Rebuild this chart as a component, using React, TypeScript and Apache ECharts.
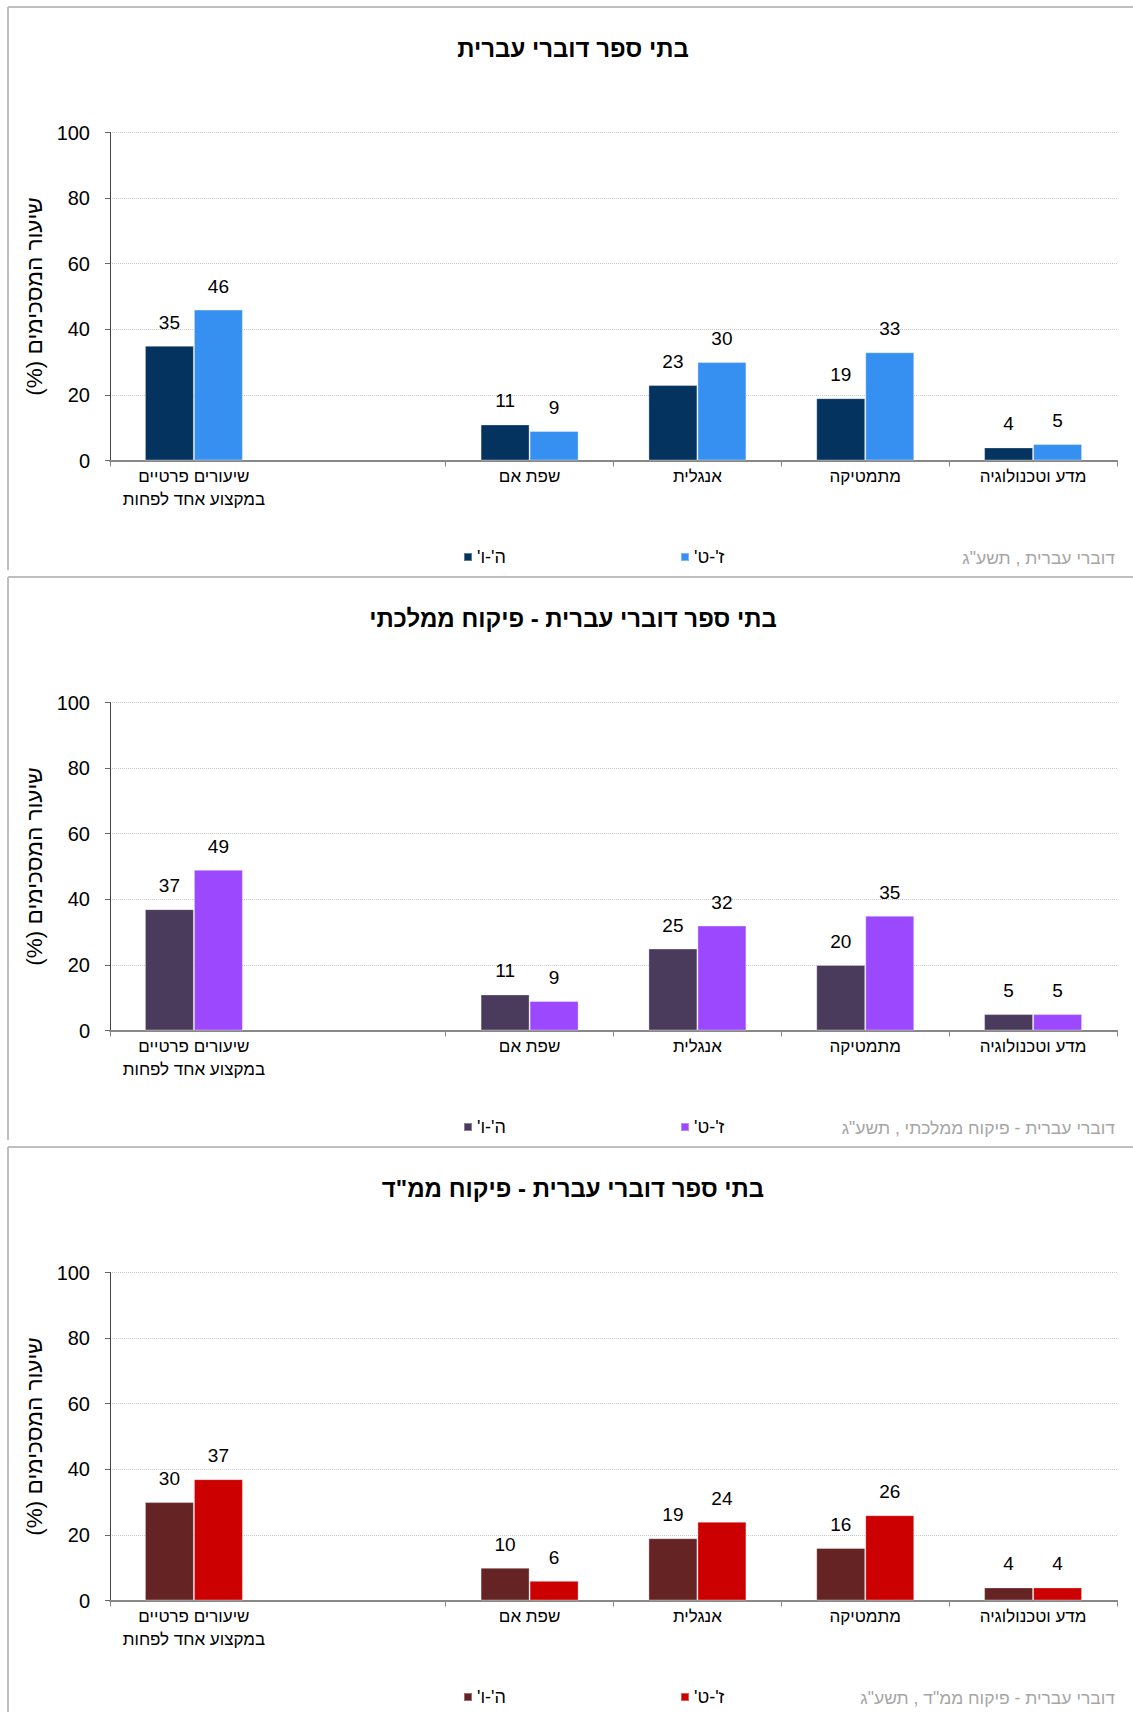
import React, { useEffect, useRef } from "react";
import * as echarts from "echarts";

const RLM = "\u200F";
const rtl = (s: string) => RLM + s + RLM;

const categories = [
  "שיעורים פרטיים\nבמקצוע אחד לפחות",
  "",
  "שפת אם",
  "אנגלית",
  "מתמטיקה",
  "מדע וטכנולוגיה",
];
const seriesNames = ["ה'-ו'", "ז'-ט'"];
const yAxisName = "שיעור המסכימים (%)";
const yTicks = [0, 20, 40, 60, 80, 100];

const titles = [
  "בתי ספר דוברי עברית",
  "בתי ספר דוברי עברית - פיקוח ממלכתי",
  'בתי ספר דוברי עברית - פיקוח ממ"ד',
];
const footnotes = [
  'דוברי עברית , תשע"ג',
  'דוברי עברית - פיקוח ממלכתי , תשע"ג',
  'דוברי עברית - פיקוח ממ"ד , תשע"ג',
];

const allLower = [35, null, 11, 23, 19, 4];
const allUpper = [46, null, 9, 30, 33, 5];
const stateLower = [37, null, 11, 25, 20, 5];
const stateUpper = [49, null, 9, 32, 35, 5];
const religLower = [30, null, 10, 19, 16, 4];
const religUpper = [37, null, 6, 24, 26, 4];

const panelData = [
  [allLower, allUpper],
  [stateLower, stateUpper],
  [religLower, religUpper],
];
const panelColors = [
  ["#03335E", "#3690F2"],
  ["#4A3A5C", "#9C48FF"],
  ["#652324", "#CC0000"],
];

const FONT = "'Liberation Sans', Arial, sans-serif";
const PANEL_H = 570;
const W = 1133;

function buildOption(i: number, h: number) {
  const [lower, upper] = panelData[i];
  const colors = panelColors[i];
  const mkSeries = (name: string, data: (number | null)[], color: string) => ({
    type: "bar",
    name,
    data,
    barWidth: 49,
    barGap: "0%",
    itemStyle: { color, borderColor: "rgba(255,255,255,0.35)", borderWidth: 1 },
    label: {
      show: true,
      position: "top",
      distance: 14,
      color: "#000",
      fontSize: 19,
      fontFamily: FONT,
    },
  });
  return {
    animation: false,
    textStyle: { fontFamily: FONT },
    title: {
      text: rtl(titles[i]),
      left: 573,
      top: 36,
      textAlign: "center",
      padding: 0,
      textStyle: { fontSize: 24, fontWeight: "bold", color: "#000", fontFamily: FONT },
    },
    legend: [0, 1].map((k) => ({
      data: [seriesNames[k]],
      left: k === 0 ? 463 : 680,
      top: 548,
      padding: 0,
      itemWidth: 8,
      itemHeight: 8,
      icon: "rect",
      itemGap: 0,
      formatter: (n: string) => rtl(n),
      textStyle: { fontSize: 18, color: "#000", fontFamily: FONT },
      selectedMode: false,
    })),
    grid: { left: 110, right: 16, top: 132.5, height: 328, containLabel: false },
    xAxis: {
      type: "category",
      data: categories,
      axisLine: { lineStyle: { color: "#888", width: 2 } },
      axisTick: { show: true, length: 6, lineStyle: { color: "#888", width: 1 } },
      axisLabel: {
        interval: (_idx: number, v: string) => v !== "",
        margin: 4,
        fontSize: 17,
        lineHeight: 23,
        color: "#000",
        fontFamily: FONT,
        formatter: (v: string) => v.split("\n").map(rtl).join("\n"),
      },
    },
    yAxis: {
      type: "value",
      min: yTicks[0],
      max: yTicks[yTicks.length - 1],
      interval: 20,
      name: rtl(yAxisName),
      nameLocation: "middle",
      nameRotate: 90,
      nameGap: 56,
      nameTextStyle: { fontSize: 22.5, color: "#000", fontFamily: FONT },
      axisLine: { show: true, lineStyle: { color: "#444", width: 1 } },
      axisTick: { show: true, length: 5, lineStyle: { color: "#666" } },
      axisLabel: { margin: 20, fontSize: 20, color: "#000", fontFamily: FONT },
      splitLine: { show: true, lineStyle: { type: "dotted", color: "#C8C8C8", width: 1 } },
    },
    graphic: [
      { type: "line", shape: { x1: 8, y1: 7, x2: W, y2: 7 }, style: { stroke: "#BFBFBF", lineWidth: 2 } },
      { type: "line", shape: { x1: 8, y1: 7, x2: 8, y2: h }, style: { stroke: "#BFBFBF", lineWidth: 2 } },
      {
        type: "text",
        x: 1115,
        y: 558,
        style: {
          text: rtl(footnotes[i]),
          align: "right",
          verticalAlign: "middle",
          fill: "#A6A6A6",
          font: `17.5px ${FONT}`,
        },
      },
    ],
    series: [
      mkSeries(seriesNames[0], lower, colors[0]),
      mkSeries(seriesNames[1], upper, colors[1]),
    ],
  };
}

function Panel({ index, height }: { index: number; height: number }) {
  const ref = useRef<HTMLDivElement>(null);
  useEffect(() => {
    if (!ref.current) return;
    const chart = echarts.init(ref.current, undefined, { renderer: "svg" });
    chart.setOption(buildOption(index, height) as any);
    return () => chart.dispose();
  }, [index, height]);
  return <div ref={ref} style={{ width: W, height }} />;
}

export default function App() {
  const heights = [PANEL_H, PANEL_H, 1712 - 2 * PANEL_H];
  return (
    <div style={{ position: "absolute", left: 0, top: 0, width: W, height: 1712, background: "#fff" }}>
      {heights.map((h, i) => (
        <Panel key={i} index={i} height={h} />
      ))}
    </div>
  );
}
